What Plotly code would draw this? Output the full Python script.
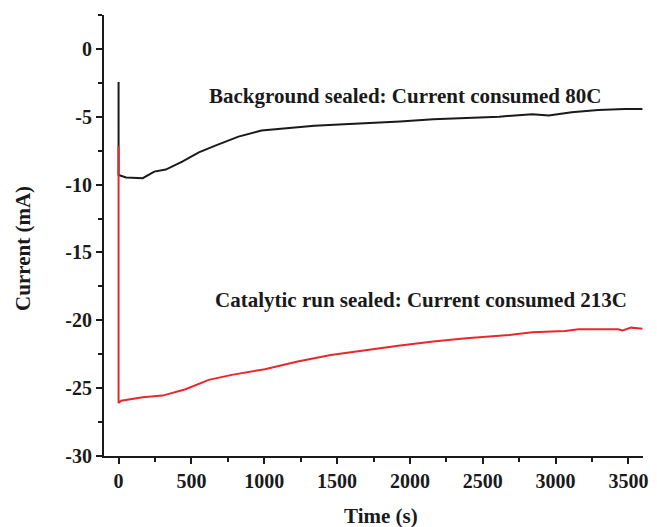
import plotly.graph_objects as go

# Chronoamperometry traces: time (s) vs current (mA)
bg_time = [0, 0, 52, 166, 245, 324, 437, 551, 664, 823, 981, 1140, 1344, 1548,
           1706, 1763, 1933, 2160, 2386, 2613, 2840, 2953, 3111, 3292, 3474, 3596]
bg_current = [-2.43, -9.29, -9.48, -9.53, -9.04, -8.89, -8.30, -7.62, -7.13, -6.46,
              -6.02, -5.85, -5.67, -5.55, -5.48, -5.40, -5.35, -5.18, -5.11, -4.99,
              -4.81, -4.91, -4.67, -4.50, -4.42, -4.42]

cat_time = [0, 0, 18, 166, 302, 460, 619, 777, 1004, 1230, 1457, 1706, 1763, 1933,
            2160, 2386, 2681, 2840, 3066, 3157, 3429, 3460, 3519, 3596]
cat_current = [-7.15, -26.10, -25.92, -25.67, -25.55, -25.08, -24.39, -24.02, -23.60,
               -23.04, -22.55, -22.18, -22.08, -21.86, -21.57, -21.32, -21.08, -20.88,
               -20.78, -20.66, -20.66, -20.75, -20.54, -20.63]

x_ticks = [0, 500, 1000, 1500, 2000, 2500, 3000, 3500]
y_ticks = [0, -5, -10, -15, -20, -25, -30]

bg_label = "Background sealed: Current consumed 80C"
cat_label = "Catalytic run sealed: Current consumed 213C"

FONT = "Liberation Serif"
INK = "#1a1a1a"

fig = go.Figure()
fig.add_trace(go.Scatter(x=bg_time, y=bg_current, mode="lines",
                         line=dict(color=INK, width=2), showlegend=False))
fig.add_trace(go.Scatter(x=cat_time, y=cat_current, mode="lines",
                         line=dict(color="#e8282c", width=2), showlegend=False))

axis_common = dict(
    showgrid=False, zeroline=False, showline=True, linecolor=INK, linewidth=2,
    ticks="outside", ticklen=6, tickwidth=2, tickcolor=INK,
    tickfont=dict(family=FONT, size=20, color=INK),
)

fig.update_xaxes(range=[-100, 3600], tickvals=x_ticks,
                 ticktext=[f"<b>{v}</b>" for v in x_ticks],
                 minor=dict(dtick=250, tick0=0, ticks="outside", ticklen=4,
                            tickwidth=2, tickcolor=INK),
                 **axis_common)
fig.update_yaxes(range=[-30, 2.5], tickvals=y_ticks,
                 ticktext=[f"<b>{v}</b>" for v in y_ticks],
                 minor=dict(dtick=2.5, tick0=0, ticks="outside", ticklen=4,
                            tickwidth=2, tickcolor=INK),
                 **axis_common)

title_font = dict(family=FONT, size=21, color=INK)
fig.add_annotation(text="<b>Time (s)</b>", xref="paper", yref="paper", x=0.514, y=-0.135,
                   xanchor="center", yanchor="middle", showarrow=False, font=title_font)
fig.add_annotation(text="<b>Current (mA)</b>", xref="paper", yref="paper", x=-0.15, y=0.47,
                   xanchor="center", yanchor="middle", textangle=-90,
                   showarrow=False, font=title_font)

label_font = dict(family=FONT, size=21, color=INK)
fig.add_annotation(text=f"<b>{bg_label}</b>", x=1968, y=-3.5, xanchor="center",
                   yanchor="middle", showarrow=False, font=label_font)
fig.add_annotation(text=f"<b>{cat_label}</b>", x=2077, y=-18.5, xanchor="center",
                   yanchor="middle", showarrow=False, font=label_font)

fig.update_layout(
    width=657, height=527,
    margin=dict(l=104, r=9, t=15, b=71),
    plot_bgcolor="white", paper_bgcolor="white",
)

fig.write_html("out.html")
